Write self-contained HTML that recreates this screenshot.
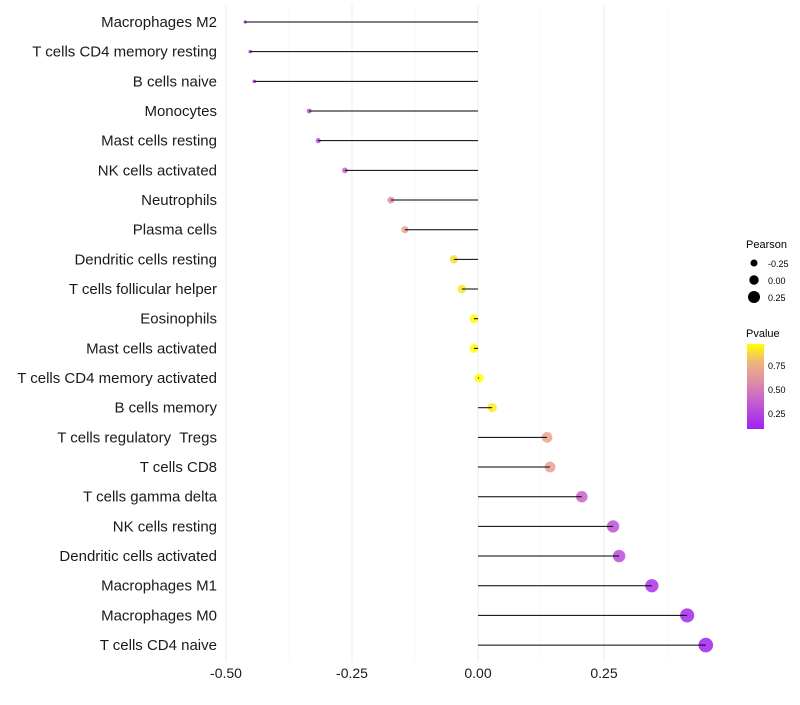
<!DOCTYPE html>
<html><head><meta charset="utf-8"><style>
body{margin:0;background:#fff;font-family:"Liberation Sans",sans-serif}
text{white-space:pre}
</style></head><body>
<svg id="chart" width="800" height="700" xmlns="http://www.w3.org/2000/svg" font-family="Liberation Sans, sans-serif">
<defs><linearGradient id="pg" x1="0" y1="1" x2="0" y2="0">
<stop offset="0" stop-color="#a020f0"/><stop offset="0.3" stop-color="#c35ad2"/><stop offset="0.55" stop-color="#de8ca8"/><stop offset="0.78" stop-color="#efb37e"/><stop offset="1" stop-color="#ffff00"/></linearGradient></defs>
<g id="grid"></g>
<g id="dots"></g>
<g id="marks"></g>
<g id="labels"></g>
<g id="xticks"></g>
<g>
<text x="746" y="248" font-size="11" fill="#000">Pearson</text>
<circle cx="754" cy="263" r="3.5" fill="#000"/><text x="768" y="267" font-size="9">-0.25</text>
<circle cx="754" cy="280" r="4.7" fill="#000"/><text x="768" y="284" font-size="9">0.00</text>
<circle cx="754" cy="297" r="6" fill="#000"/><text x="768" y="301" font-size="9">0.25</text>
</g>
<g>
<text x="746" y="337" font-size="11">Pvalue</text>
<rect x="747" y="344" width="17" height="85" fill="url(#pg)"/>
<text x="768" y="369" font-size="9">0.75</text>
<text x="768" y="393" font-size="9">0.50</text>
<text x="768" y="417" font-size="9">0.25</text>
</g>
</svg>
<script>
const categories=["Macrophages M2","T cells CD4 memory resting","B cells naive","Monocytes","Mast cells resting","NK cells activated","Neutrophils","Plasma cells","Dendritic cells resting","T cells follicular helper","Eosinophils","Mast cells activated","T cells CD4 memory activated","B cells memory","T cells regulatory  Tregs","T cells CD8","T cells gamma delta","NK cells resting","Dendritic cells activated","Macrophages M1","Macrophages M0","T cells CD4 naive"];
const pearson=[-0.462,-0.452,-0.444,-0.335,-0.317,-0.264,-0.173,-0.145,-0.048,-0.032,-0.008,-0.008,0.002,0.028,0.137,0.143,0.206,0.268,0.280,0.345,0.415,0.452];
const pvalue=[0.12,0.13,0.14,0.32,0.3,0.38,0.6,0.7,0.88,0.9,0.95,0.95,0.97,0.91,0.7,0.68,0.4,0.32,0.3,0.2,0.15,0.12];
const xTicks=[-0.5,-0.25,0,0.25];
const xTickLabels=["-0.50","-0.25","0.00","0.25"];
const NS="http://www.w3.org/2000/svg";
const x=v=>478+v*504;
const y=i=>22+i*29.67;
const r=v=>4.5+6.2*v;
const stops=[[0,[160,32,240]],[0.3,[195,90,210]],[0.55,[222,140,168]],[0.78,[239,179,126]],[1,[255,255,0]]];
function col(p){let t=(p-0.11)/(0.96-0.11);t=Math.max(0,Math.min(1,t));
for(let k=1;k<stops.length;k++){if(t<=stops[k][0]){const a=stops[k-1],b=stops[k],f=(t-a[0])/(b[0]-a[0]);
return "rgb("+a[1].map((c,j)=>Math.round(c+(b[1][j]-c)*f)).join(",")+")";}}return "rgb(255,255,0)";}
function mk(tag,at,parent){const e=document.createElementNS(NS,tag);for(const k in at)e.setAttribute(k,at[k]);document.getElementById(parent).appendChild(e);return e;}
for(let v=-0.5;v<=0.376;v+=0.125){const major=Math.abs((v*4)-Math.round(v*4))<1e-6;
const g=mk("line",{x1:x(v),x2:x(v),y1:5,y2:662,stroke:major?"#ebebeb":"#f4f4f4","stroke-width":major?1:0.6},"grid");

}
categories.forEach((c,i)=>{
const d=mk("circle",{cx:x(pearson[i]),cy:y(i),r:r(pearson[i]),fill:col(pvalue[i]),"fill-opacity":0.85},"dots");


const l=mk("line",{x1:x(0),x2:x(pearson[i]),y1:y(i),y2:y(i),stroke:"#000","stroke-width":1},"marks");


const t=mk("text",{x:217,y:y(i)+5,"text-anchor":"end","font-size":15,fill:"#1a1a1a"},"labels");
t.textContent=c;

});
xTicks.forEach((v,i)=>{const t=mk("text",{x:x(v),y:678,"text-anchor":"middle","font-size":14,fill:"#1a1a1a"},"xticks");
t.textContent=xTickLabels[i];

});
</script>
</body></html>
